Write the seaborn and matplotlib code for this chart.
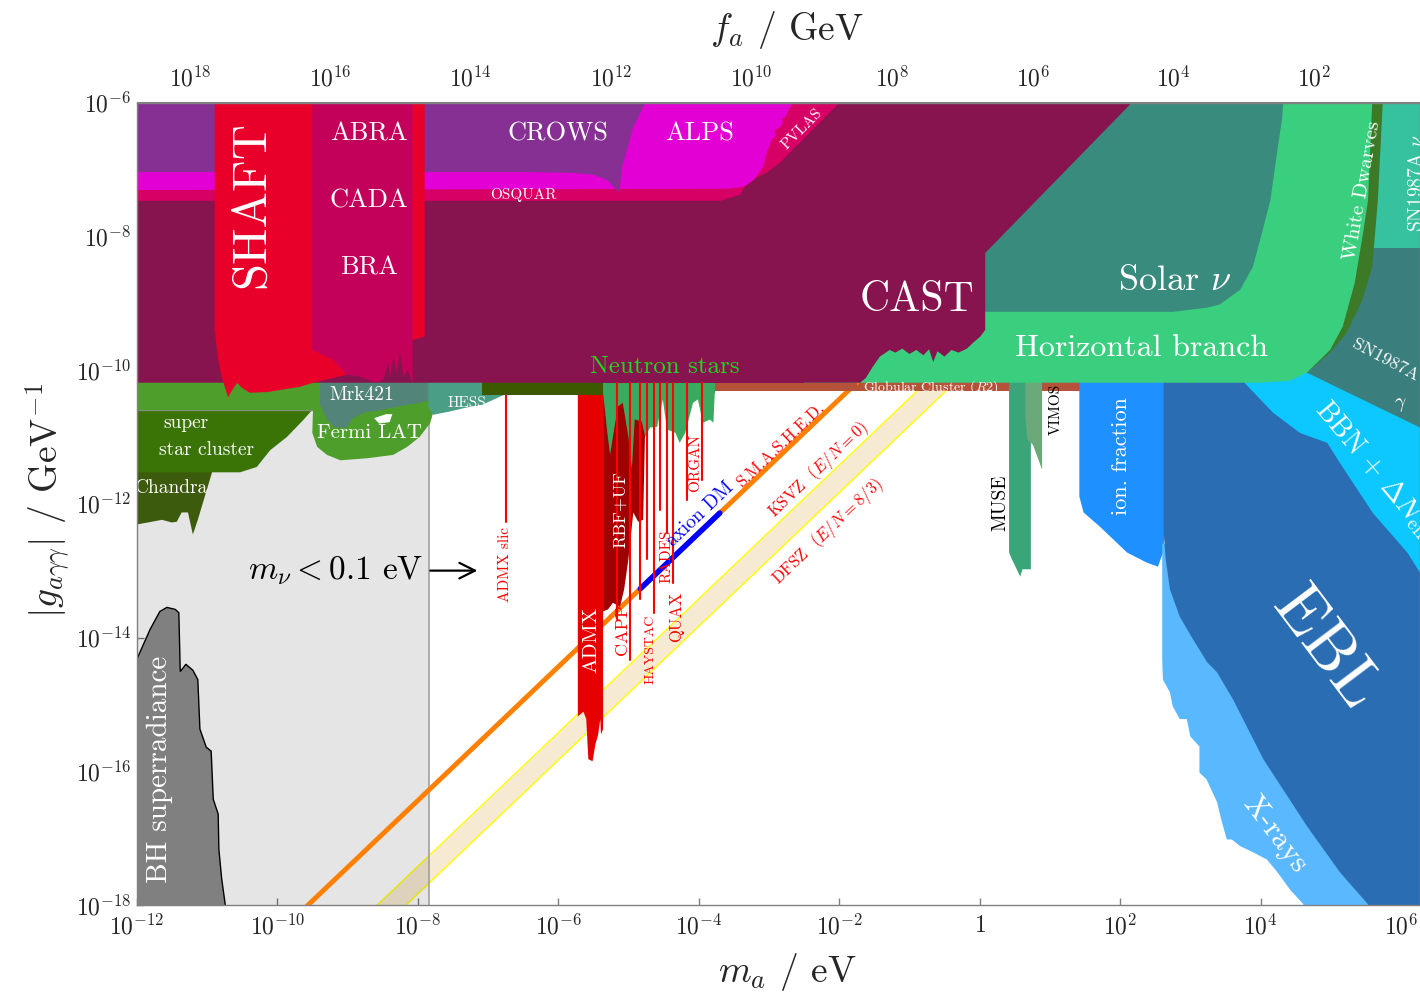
import numpy as np
import matplotlib
matplotlib.use("Agg")
import matplotlib.pyplot as plt
import seaborn as sns
from matplotlib.ticker import FixedLocator, FuncFormatter, NullLocator

# all boundaries below are log10(m_a / eV) and log10(g / GeV^-1)

# theory lines
qcd_lm = [-13.0, 1.0]
ksvz_lg = [-22.425, -8.425]
dfsz_lg = [-22.834, -8.834]
smashed_lm = [-10.5, -1.75]
smashed_lg = [-18.94, -10.19]
dm_lm = [-4.83, -3.70]
dm_lg = [-13.27, -12.14]

# neutrino mass bound
nu_lm = [-13.0, -7.84, -7.84, -13.0]
nu_lg = [-19.0, -19.0, -10.19, -10.19]

bh_lm = [-12.5, -12.0, -11.81, -11.67, -11.57, -11.45, -11.40, -11.38, -11.30, -11.20, -11.13,
         -11.10, -11.01, -10.94, -10.91, -10.84, -10.83, -10.79, -10.74, -10.72, -12.5]
bh_lg = [-15.0, -14.33, -13.88, -13.61, -13.55, -13.58, -13.63, -14.51, -14.40, -14.49, -14.63,
         -15.37, -15.64, -15.70, -16.42, -16.64, -17.17, -17.61, -17.99, -18.5, -18.5]

# helioscope / LSW
cast_lm = [-12.5, -1.70, -1.62, -1.52, -1.42, -1.28, -1.20, -1.10, -1.00, -0.90, -0.80, -0.72,
           -0.66, -0.60, -0.50, -0.40, -0.30, -0.18, -0.09, 0.01, 0.08, 0.08, 2.17, 2.63, -12.5]
cast_lg = [-10.19, -10.19, -10.12, -9.95, -9.80, -9.70, -9.74, -9.68, -9.76, -9.70, -9.78, -9.69,
           -9.88, -9.72, -9.80, -9.70, -9.74, -9.68, -9.59, -9.50, -9.40, -8.25, -6.0, -5.5, -5.5]
osq_lm = [-12.5, -3.69, -3.59, -3.41, -3.34, -3.15, -3.03, -2.84, -1.99, -1.52, -12.5]
osq_lg = [-7.47, -7.47, -7.44, -7.38, -7.26, -7.11, -7.05, -6.90, -6.0, -5.5, -5.5]
alps_lm = [-12.5, -3.59, -3.36, -3.22, -3.08, -3.03, -2.96, -2.90, -2.92, -2.84, -2.80, -2.82,
           -2.77, -2.66, -2.60, -12.5]
alps_lg = [-7.31, -7.29, -7.26, -7.16, -6.96, -6.75, -6.56, -6.50, -6.42, -6.37, -6.30, -6.24,
           -6.22, -6.0, -5.5, -5.5]
crows_lm = [-12.5, -6.44, -5.83, -5.50, -5.30, -5.13, -5.09, -5.02, -4.93, -4.76, -4.70, -12.5]
crows_lg = [-7.04, -7.04, -7.05, -7.08, -7.16, -7.35, -6.96, -6.71, -6.37, -6.0, -5.5, -5.5]
shaft_lm = [-10.89, -10.89, -10.84, -10.79, -10.70, -10.64, -10.57, -10.50, -10.39, -10.14, -9.67,
            -9.49, -9.01, -8.07, -7.90, -7.90, -10.89]
shaft_lg = [-5.5, -9.40, -9.85, -10.10, -10.41, -10.30, -10.19, -10.27, -10.34, -10.33, -10.25,
            -10.19, -10.07, -9.55, -9.50, -5.5, -5.5]
abra_lm = [-9.50, -9.50, -9.20, -9.01, -8.82, -8.60, -8.49, -8.42, -8.39, -8.34, -8.30, -8.25,
           -8.20, -8.15, -8.07, -8.07, -9.50]
abra_lg = [-5.5, -9.70, -9.85, -10.07, -10.10, -10.19, -10.15, -9.90, -10.10, -9.80, -10.05,
           -9.75, -10.10, -10.0, -10.19, -5.5, -5.5]

# astrophysics, low mass
fermi_lm = [-12.5, -7.72, -7.72, -7.78, -7.82, -7.97, -8.15, -8.35, -8.72, -9.10, -9.29, -9.43,
            -9.50, -9.49, -12.5]
fermi_lg = [-10.0, -10.0, -10.55, -10.64, -10.79, -11.00, -11.15, -11.27, -11.32, -11.35, -11.27,
            -11.15, -10.94, -10.60, -10.60]
hole_lm = [-8.62, -8.45, -8.36, -8.40, -8.55]
hole_lg = [-10.72, -10.66, -10.66, -10.78, -10.80]
ssc_lm = [-12.5, -9.42, -9.63, -9.86, -10.10, -10.29, -10.53, -10.91, -12.5]
ssc_lg = [-10.50, -10.50, -10.75, -11.00, -11.20, -11.45, -11.53, -11.53, -11.53]
chandra_lm = [-12.5, -10.90, -10.93, -11.03, -11.13, -11.20, -11.27, -11.36, -11.43, -11.50,
              -11.64, -11.84, -12.0, -12.5]
chandra_lg = [-11.3, -11.3, -11.54, -11.89, -12.24, -12.46, -12.13, -12.13, -12.27, -12.28,
              -12.24, -12.28, -12.31, -12.31]
mrk_lm = [-9.39, -9.39, -9.29, -9.18, -9.01, -8.94, -8.78, -8.54, -8.25, -7.97, -7.78, -7.68]
mrk_lg = [-10.0, -10.52, -10.74, -10.86, -10.86, -10.74, -10.64, -10.60, -10.54, -10.49, -10.44, -10.0]
hess_lm = [-7.85, -7.85, -7.78, -7.54, -7.30, -7.08, -6.83, -6.58, -6.21]
hess_lg = [-10.0, -10.55, -10.67, -10.62, -10.56, -10.52, -10.40, -10.29, -10.0]
olive_lm = [-7.08, -5.36, -5.36, -7.08]
olive_lg = [-10.0, -10.0, -10.37, -10.37]
gc_lm = [-3.85, 2.70, 2.70, -3.85]
gc_lg = [-10.0, -10.0, -10.32, -10.32]
ns_lm = [-5.36, -5.36, -5.30, -5.26, -5.22, -5.15, -5.08, -5.00, -4.95, -4.91, -4.81, -4.76, -4.69,
         -4.59, -4.51, -4.45, -4.33, -4.27, -4.19, -4.08, -4.01, -3.94, -3.84, -3.79, -3.77, -3.77]
ns_lg = [-10.0, -10.34, -10.94, -11.27, -11.00, -10.55, -10.49, -11.00, -11.49, -10.74, -10.77,
         -11.00, -10.86, -10.85, -10.44, -10.89, -10.94, -11.09, -10.94, -10.49, -10.44, -10.79,
         -10.74, -10.79, -10.34, -10.0]

# haloscopes
admx_lm = [-5.72, -5.72, -5.64, -5.60, -5.57, -5.51, -5.47, -5.43, -5.40, -5.39, -5.36, -5.36]
admx_lg = [-10.0, -15.18, -15.11, -15.22, -15.82, -15.85, -15.60, -15.45, -15.22, -15.45, -15.37, -10.0]
rbf_lm = [-5.36, -5.36, -5.29, -5.22, -5.12, -5.06, -5.00, -4.93, -4.86, -4.79, -4.76, -4.76]
rbf_lg = [-10.0, -13.61, -13.58, -13.48, -13.54, -13.28, -12.83, -12.13, -12.27, -12.24, -10.79, -10.0]
halo_lm = [-5.16, -4.97, -4.83, -4.74, -4.63, -4.55, -4.45, -4.36, -4.16, -3.95]
halo_low = [-13.73, -14.33, -13.43, -12.83, -13.63, -12.09, -12.43, -13.18, -11.94, -11.64]
slic_lm = -6.74
slic_low = -12.27

# astrophysics / cosmology, high mass
muse_lm = [0.42, 0.42, 0.46, 0.51, 0.58, 0.61, 0.73, 0.73]
muse_lg = [-10.0, -12.73, -12.83, -12.94, -13.09, -12.98, -12.98, -10.0]
vimos_lm = [0.65, 0.65, 0.68, 0.76, 0.89, 0.89]
vimos_lg = [-10.0, -10.70, -11.04, -11.12, -11.49, -10.0]
ion_lm = [1.42, 1.42, 1.48, 1.71, 2.10, 2.38, 2.54, 2.62, 2.70]
ion_lg = [-10.0, -11.89, -12.13, -12.34, -12.73, -12.88, -12.94, -12.70, -10.0]
xray_lm = [2.60, 2.60, 2.61, 2.71, 2.75, 2.85, 2.95, 3.00, 3.13, 3.13, 3.23, 3.38, 3.45, 3.52,
           3.59, 3.71, 3.89, 4.09, 4.24, 4.42, 4.61, 4.65, 6.5, 6.5]
xray_lg = [-12.6, -14.33, -14.63, -14.82, -15.03, -15.22, -15.22, -15.48, -15.63, -16.02, -16.12,
           -16.46, -16.76, -17.02, -17.02, -17.12, -17.21, -17.32, -17.51, -17.77, -17.99, -18.5,
           -18.5, -12.6]
ebl_lm = [2.62, 2.62, 2.65, 2.71, 2.85, 3.04, 3.24, 3.38, 3.61, 4.04, 4.66, 5.13, 5.53, 5.58, 6.5,
          6.5, 3.77]
ebl_lg = [-10.0, -12.43, -12.83, -13.28, -13.69, -14.03, -14.37, -14.52, -14.93, -15.82, -16.82,
          -17.51, -17.99, -18.5, -18.5, -9.8, -10.0]
bbn_lm = [3.77, 3.90, 6.5, 6.5, 6.27, 6.09, 5.60, 5.13, 4.95, 4.56, 4.18]
bbn_lg = [-10.19, -9.80, -9.80, -13.41, -13.03, -12.73, -12.14, -11.39, -11.09, -10.94, -10.64]
sng_lm = [4.66, 6.27, 6.5, 6.5, 5.0, 4.5]
sng_lg = [-10.04, -10.86, -10.97, -8.0, -8.0, -9.90]
snn_lm = [5.3, 6.5, 6.5, 5.3]
snn_lg = [-8.17, -8.17, -5.5, -5.5]
wd_lm = [4.66, 4.99, 5.23, 5.45, 5.59, 5.67, 5.74, 5.76, 3.0, 3.0]
wd_lg = [-10.04, -9.74, -9.44, -8.95, -8.46, -7.46, -6.0, -5.5, -5.5, -10.19]
hb_lm = [-3.0, 4.00, 4.42, 4.66, 4.99, 5.17, 5.34, 5.46, 5.53, 5.59, 5.60, -3.0]
hb_lg = [-10.19, -10.19, -10.16, -10.04, -9.70, -9.35, -8.70, -7.95, -7.46, -6.0, -5.5, -5.5]
solar_lm = [-1.0, 2.75, 3.23, 3.42, 3.71, 3.89, 4.02, 4.14, 4.24, 4.31, 4.32, 4.36, -1.0]
solar_lg = [-9.13, -9.13, -9.07, -9.02, -8.80, -8.46, -7.95, -7.46, -6.71, -6.22, -6.0, -5.5, -5.5]

x_ticks = [-12, -10, -8, -6, -4, -2, 0, 2, 4, 6]
y_ticks = [-18, -16, -14, -12, -10, -8, -6]
fa_ticks = [2, 4, 6, 8, 10, 12, 14, 16, 18]
fa_const = 5.7e6  # f_a [GeV] * m_a [eV]

sns.set_style("ticks")
plt.rcParams['font.family'] = ['cmr10']
plt.rcParams['mathtext.fontset'] = 'cm'
plt.rcParams['axes.formatter.use_mathtext'] = True
plt.rcParams['axes.unicode_minus'] = False

fig = plt.figure(figsize=(14.2, 10.02), dpi=100)
ax = fig.add_axes([136.7 / 1420, 97 / 1002, 1 - 136.7 / 1420, 802.5 / 1002])
ax.set_xscale('log')
ax.set_yscale('log')


def P(v):
    return 10.0 ** np.asarray(v, dtype=float)


def region(lm, lg, color, z, **kw):
    ax.fill(P(lm), P(lg), color=color, lw=0, zorder=z, **kw)


# QCD band and lines
ax.fill_between(P(qcd_lm), P(dfsz_lg), P(ksvz_lg), color='#f3dcb4', alpha=0.6, lw=0, zorder=1)
sns.lineplot(x=P(qcd_lm), y=P(ksvz_lg), ax=ax, color='#ffff00', lw=1.0, zorder=1.2)
sns.lineplot(x=P(qcd_lm), y=P(dfsz_lg), ax=ax, color='#ffff00', lw=1.0, zorder=1.2)

region(nu_lm, nu_lg, 'black', 1.5, alpha=0.1)
ax.plot([P(-7.84)] * 2, [P(-19), P(-10.19)], color='#a0a0a0', lw=1.2, zorder=1.6)

ax.fill(P(bh_lm), P(bh_lg), facecolor='#808080', edgecolor='black', lw=1.0, zorder=2)

region(gc_lm, gc_lg, '#b5533a', 2.5)
sns.lineplot(x=P(smashed_lm), y=P(smashed_lg), ax=ax, color='#ff8000', lw=3.5, zorder=3)
sns.lineplot(x=P(dm_lm), y=P(dm_lg), ax=ax, color='#0000ff', lw=4.0, zorder=3.1)

# haloscopes
region(admx_lm, admx_lg, '#e60000', 4)
region(rbf_lm, rbf_lg, '#a00000', 4.1)
region(ns_lm, ns_lg, '#3aaa60', 4.5)
for lm, lo in zip(halo_lm, halo_low):
    ax.plot([P(lm)] * 2, [P(-10.19), P(lo)], color='#ff0000', lw=1.5, zorder=19.5)
ax.plot([P(slic_lm)] * 2, [P(-10.3), P(slic_low)], color='#ff0000', lw=1.5, zorder=4.55)

# high mass
region(muse_lm, muse_lg, '#3ba57a', 4.6)
region(vimos_lm, vimos_lg, '#6ba87a', 4.7)
region(ion_lm, ion_lg, '#1e90ff', 4.6)
region(xray_lm, xray_lg, '#5ab8ff', 4.6)
region(ebl_lm, ebl_lg, '#2a6db2', 4.7)
region(bbn_lm, bbn_lg, '#0cc8ff', 4.8)
region(sng_lm, sng_lg, '#3a7f7d', 4.9)
region(snn_lm, snn_lg, '#36c29f', 4.9)
region(wd_lm, wd_lg, '#3c7a28', 5.0)
region(hb_lm, hb_lg, '#3acf7e', 5.1)
region(solar_lm, solar_lg, '#398b7d', 5.2)

# low mass astrophysics
region(chandra_lm, chandra_lg, '#3d5b0c', 5.3)
region(ssc_lm, ssc_lg, '#3a7406', 5.4)
ax.plot(P([-12.5, -9.45]), P([-10.60, -10.60]), color='#8a8a8a', lw=1.0, zorder=5.45)
region(fermi_lm, fermi_lg, '#4e9e2c', 5.5)
region(hole_lm, hole_lg, 'white', 5.55)
region(mrk_lm, mrk_lg, '#52847a', 5.6)
region(hess_lm, hess_lg, '#4a9e85', 5.6)
region(olive_lm, olive_lg, '#3d5900', 5.7)

# helioscope and LSW
region(cast_lm, cast_lg, '#87134f', 6)
region(osq_lm, osq_lg, '#d70064', 6.1)
region(alps_lm, alps_lg, '#e300d4', 6.2)
region(crows_lm, crows_lg, '#863093', 6.3)
region(shaft_lm, shaft_lg, '#e8002a', 6.5)
region(abra_lm, abra_lg, '#c3005a', 6.6)

# seal the CAST / neutron-star / globular-cluster seam
ax.fill(P([-5.45, -2.5, -2.5, -5.45]), P([-10.19, -10.19, -10.12, -10.12]), color='#87134f',
        lw=0, zorder=19)
ax.fill(P([-5.36, -3.77, -3.77, -5.36]), P([-10.34, -10.34, -10.19, -10.19]), color='#3aaa60',
        lw=0, zorder=19)
ax.fill(P([-3.77, -1.75, -1.75, -3.77]), P([-10.32, -10.32, -10.19, -10.19]), color='#b5533a',
        lw=0, zorder=19)


def label(lm, lg, s, size, color='white', rot=0.0, z=20, **kw):
    ax.text(P(lm), P(lg), s, fontsize=size, color=color, rotation=rot, ha='center', va='center',
            rotation_mode='anchor', zorder=z, **kw)


line_rot = 43.6
label(-10.36, -7.53, 'SHAFT', 35, rot=90)
label(-8.69, -6.46, 'ABRA', 19)
label(-8.69, -7.47, 'CADA', 19)
label(-8.69, -8.47, 'BRA', 19)
label(-6.0, -6.46, 'CROWS', 19)
label(-3.98, -6.46, 'ALPS', 19)
label(-6.50, -7.38, 'OSQUAR', 11)
label(-2.53, -6.40, 'PVLAS', 11, rot=45)
label(-0.89, -8.95, 'CAST', 30)
label(2.78, -8.67, r'Solar $\nu$', 26)
label(2.30, -9.68, 'Horizontal branch', 23)
label(-4.48, -9.96, 'Neutron stars', 18, color='#1ed81e', z=18)
label(-0.69, -10.25, r'Globular Cluster ($R2$)', 10)
label(-8.79, -10.38, 'Mrk421', 14)
label(-7.30, -10.49, 'HESS', 11)
label(-8.69, -10.94, 'Fermi LAT', 15)
label(-11.30, -10.80, 'super', 14)
label(-11.0, -11.19, 'star cluster', 14)
label(-11.50, -11.77, 'Chandra', 14)
label(-11.67, -15.97, 'BH superradiance', 21, rot=90)
ax.text(P(-10.42), P(-13.13), r'$m_\nu < 0.1$ eV', fontsize=24, color='black', ha='left',
        va='baseline', zorder=20)
ax.annotate('', xy=(P(-7.11), P(-13.0)), xytext=(P(-7.86), P(-13.0)),
            arrowprops=dict(arrowstyle='->', lw=1.6, color='black', mutation_scale=28), zorder=20)
label(-6.76, -12.91, 'ADMX slic', 11, color='red', rot=90)
label(-5.53, -14.03, 'ADMX', 15, rot=90)
label(-5.12, -12.09, 'RBF+UF', 13, rot=90)
label(-5.09, -13.88, 'CAPP', 13, color='red', rot=90)
label(-4.68, -14.18, 'HAYSTAC', 10, color='red', rot=90)
label(-4.46, -12.79, 'RADES', 11, color='red', rot=90)
label(-4.31, -13.69, 'QUAX', 12, color='red', rot=90)
label(-4.05, -11.39, 'ORGAN', 11, color='red', rot=90)
label(-3.98, -12.16, 'axion DM', 14, color='blue', rot=line_rot)
label(-2.84, -11.12, 'S.M.A.S.H.E.D.', 12, color='red', rot=line_rot)
label(-2.30, -11.49, r'KSVZ  ($E/N = 0$)', 12, color='red', rot=line_rot)
label(-2.16, -12.42, r'DFSZ  ($E/N = 8/3$)', 12, color='red', rot=line_rot)
label(0.29, -11.98, 'MUSE', 14, color='black', rot=90)
label(1.08, -10.59, 'VIMOS', 11, color='black', rot=90)
label(2.01, -11.29, 'ion. fraction', 16, rot=90)
label(4.92, -14.18, 'EBL', 48, rot=-53)
label(4.21, -16.94, 'X-rays', 22, rot=-53)
label(5.63, -11.49, r'BBN + $\Delta N_{\rm eff}$', 20, rot=-50)
label(5.77, -9.85, 'SN1987A', 13, rot=-28)
label(5.99, -10.52, r'$\gamma$', 14)
label(6.23, -7.21, r'SN1987A $\nu$', 14, rot=90)
label(5.45, -7.31, 'White Dwarves', 15, rot=80)

# axes
ax.set_xlim(P(-12), P(6.27))
ax.set_ylim(P(-18), P(-6))
ax.set_xlabel('')
ax.set_ylabel('')


def pow_fmt(v, pos):
    k = int(round(np.log10(v)))
    return '$1$' if k == 0 else '$10^{%d}$' % k


ax.xaxis.set_major_locator(FixedLocator(P(x_ticks)))
ax.yaxis.set_major_locator(FixedLocator(P(y_ticks)))
ax.xaxis.set_major_formatter(FuncFormatter(pow_fmt))
ax.yaxis.set_major_formatter(FuncFormatter(pow_fmt))
ax.xaxis.set_minor_locator(NullLocator())
ax.yaxis.set_minor_locator(NullLocator())
ax.tick_params(direction='in', length=5, width=1, color='#808080', labelsize=17)
ax.tick_params(axis='x', pad=7)
ax.tick_params(axis='y', pad=4)
for sp in ax.spines.values():
    sp.set_color('#808080')
    sp.set_linewidth(1.0)
    sp.set_zorder(30)

top = ax.secondary_xaxis('top', functions=(lambda m: fa_const / np.maximum(m, 1e-300),
                                           lambda f: fa_const / np.maximum(f, 1e-300)))
top.xaxis.set_major_locator(FixedLocator(P(fa_ticks)))
top.xaxis.set_major_formatter(FuncFormatter(pow_fmt))
top.xaxis.set_minor_locator(NullLocator())
top.tick_params(direction='in', length=5, width=1, color='#808080', labelsize=17, pad=8)
top.spines['top'].set_color('#808080')

fig.text(787 / 1420, 1 - 972 / 1002, r'$m_a$ / eV', fontsize=27, ha='center', va='center')
fig.text(787 / 1420, 1 - 30 / 1002, r'$f_a$ / GeV', fontsize=27, ha='center', va='center')
fig.text(48 / 1420, 1 - 500 / 1002, r'$|g_{a\gamma\gamma}|$ / GeV$^{-1}$', fontsize=27,
         ha='center', va='center', rotation=90)

fig.savefig('out.png', dpi=100)
